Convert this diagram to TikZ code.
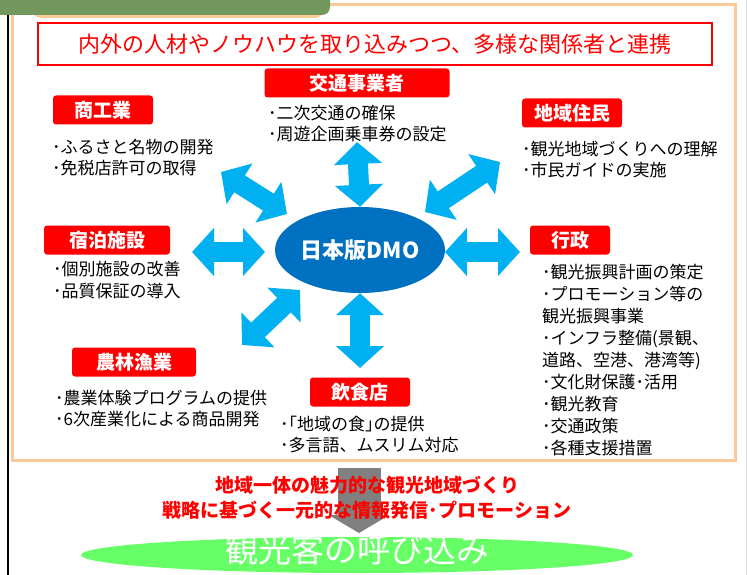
\documentclass[tikz,border=0pt]{standalone}
\usepackage{fontspec}
\setmainfont{Noto Sans CJK JP}
\usetikzlibrary{shapes.geometric,arrows.meta}

\definecolor{tabgreen}{RGB}{114,152,94}
\definecolor{framepeach}{RGB}{252,202,152}
\definecolor{arrowblue}{RGB}{0,176,240}
\definecolor{dmoblue}{RGB}{0,112,192}
\definecolor{flowgray}{RGB}{128,128,128}
\definecolor{goalgreen}{RGB}{102,255,102}

\tikzset{
  rolebox/.style={fill=red, rounded corners=3pt, text=white, inner sep=0pt, minimum height=29pt, font=\bfseries\fontsize{19}{22}\selectfont},
  rolelist/.style={anchor=north west, align=left, inner sep=0pt, font=\fontsize{17}{21}\selectfont},
  linkarrow/.style={draw=arrowblue, line width=20pt, {Triangle[length=22pt,width=47pt]}-{Triangle[length=22pt,width=47pt]}},
}

\begin{document}
\begin{tikzpicture}[x=1pt, y=-1pt]
        \useasboundingbox (0,0) rectangle (747,575);

        % --- FRAME ---
        \draw[framepeach, line width=3pt] (12,5) rectangle (735,460);
        \fill[framepeach, rounded corners=8pt] (33,-20) rectangle (323,18);
        \fill[tabgreen, rounded corners=8pt] (-10,-20) rectangle (330,15);
        \draw[black, line width=1.5pt] (8,15) -- (8,575);
        \draw[gray!25, line width=1pt] (746,0) -- (746,575);

        \node (motto) at (375,44) [draw=red, line width=2.5pt, minimum width=674pt, minimum height=42pt, inner sep=0pt, text=red, font=\fontsize{22}{24}\selectfont] {内外の人材やノウハウを取り込みつつ、多様な関係者と連携};

        % --- DMO ---
        \node (dmo) at (360,250) [ellipse, fill=dmoblue, minimum width=170pt, minimum height=86pt, inner sep=0pt, text=white, font=\bfseries\fontsize{22}{24}\selectfont] {日本版DMO};

        % --- STAKEHOLDERS ---
        \node (kotsu) at (357,83) [rolebox, minimum width=185pt] {交通事業者};
        \node (kotsulist) at (268,105) [rolelist] {･二次交通の確保\\･周遊企画乗車券の設定};

        \node (shoko) at (103,110) [rolebox, minimum width=100pt] {商工業};
        \node (shokolist) at (52,139) [rolelist] {･ふるさと名物の開発\\･免税店許可の取得};

        \node (jumin) at (572,113) [rolebox, minimum width=100pt] {地域住民};
        \node (juminlist) at (522,141) [rolelist] {･観光地域づくりへの理解\\･市民ガイドの実施};

        \node (shukuhaku) at (107,240) [rolebox, minimum width=126pt] {宿泊施設};
        \node (shukuhakulist) at (53,261) [rolelist, font=\fontsize{17}{22}\selectfont] {･個別施設の改善\\･品質保証の導入};

        \node (gyosei) at (570,240) [rolebox, minimum width=80pt] {行政};
        \node (gyoseilist) at (542,264) [rolelist, font=\fontsize{17}{22}\selectfont] {･観光振興計画の策定\\･プロモーション等の\\観光振興事業\\･インフラ整備(景観、\\道路、空港、港湾等)\\･文化財保護･活用\\･観光教育\\･交通政策\\･各種支援措置};

        \node (norin) at (134,362) [rolebox, minimum width=124pt] {農林漁業};
        \node (norinlist) at (55,390) [rolelist] {･農業体験プログラムの提供\\･6次産業化による商品開発};

        \node (inshoku) at (360,392) [rolebox, minimum width=100pt] {飲食店};
        \node (inshokulist) at (280,416) [rolelist] {･｢地域の食｣の提供\\･多言語、ムスリム対応};

        % --- ARROWS ---
        \coordinate (endT) at (357,142);
        \coordinate (endL) at (192,252);
        \coordinate (endLL) at (265,252);
        \coordinate (endR) at (445,252);
        \coordinate (endRR) at (520,252);
        \coordinate (endB) at (360,368);
        \coordinate (endUL) at (221,172);
        \coordinate (endULin) at (287,214);
        \coordinate (endUR) at (500,162);
        \coordinate (endURin) at (425,212);
        \coordinate (endDL) at (242,345);
        \coordinate (endDLin) at (300,290);

        \draw[linkarrow] (endT) -- (dmo.north);
        \draw[linkarrow] (endL) -- (endLL);
        \draw[linkarrow] (endR) -- (endRR);
        \draw[linkarrow] (dmo.south) -- (endB);
        \draw[linkarrow] (endUL) -- (endULin);
        \draw[linkarrow] (endUR) -- (endURin);
        \draw[linkarrow] (endDL) -- (endDLin);

        % --- RESULT ---
        \coordinate (flowtop) at (359,468);
        \coordinate (flowtip) at (359,533);
        \draw[flowgray, line width=43pt, -{Triangle[length=18pt,width=60pt]}] (flowtop) -- (flowtip);

        \node (slogan1) at (367,485) [text=red, font=\bfseries\fontsize{19}{22}\selectfont] {地域一体の魅力的な観光地域づくり};
        \node (slogan2) at (367,510) [text=red, font=\bfseries\fontsize{19}{22}\selectfont] {戦略に基づく一元的な情報発信･プロモーション};

        \node (goal) at (357,555) [ellipse, fill=goalgreen, minimum width=552pt, minimum height=36pt, inner sep=0pt] {};
        \node (goaltext) at (357,550) [text=white, font=\fontsize{33}{34}\selectfont] {観光客の呼び込み};
\end{tikzpicture}
\end{document}
